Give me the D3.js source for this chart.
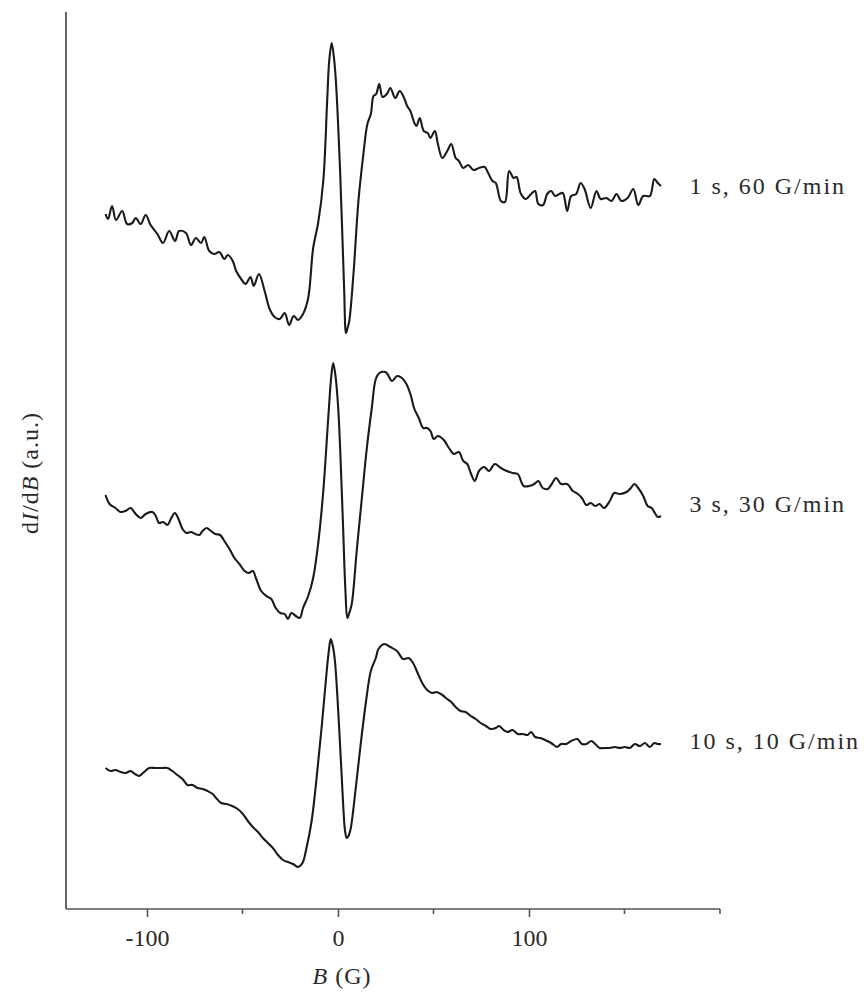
<!DOCTYPE html>
<html>
<head>
<meta charset="utf-8">
<script src="https://cdn.jsdelivr.net/npm/d3@7"></script>
<style>
  html, body { margin: 0; padding: 0; background: #fff; }
  svg { display: block; }
  text { font-family: "Liberation Serif", "Times New Roman", serif; fill: #2a2a2a; }
</style>
</head>
<body>
<svg id="chart" width="864" height="993"></svg>
<script>
// ---- Data (B in gauss, dI/dB in arbitrary units incl. vertical offset) ----
const seriesLabels = ["1 s, 60 G/min", "3 s, 30 G/min", "10 s, 10 G/min"];
const xTicks = [-100, 0, 100];
const xMinorTicks = [-50, 50, 150, 200];

const curve1B = [-121.7,-120.4,-118.3,-116.2,-113.0,-110.4,-107.7,-105.9,-103.3,-100.7,-98.1,-94.6,-91.6,-88.4,-85.3,-83.2,-79.6,-77.0,-74.4,-71.7,-70.0,-67.4,-64.7,-62.1,-59.5,-57.7,-55.1,-53.3,-50.7,-48.4,-45.8,-44.1,-41.4,-38.4,-35.8,-33.2,-30.5,-27.9,-25.6,-23.2,-20.9,-18.3,-15.6,-13.0,-10.4,-7.7,-5.6,-4.6,-3.3,-2.1,-1.1,1.1,3.2,4.2,5.0,5.9,8.1,10.7,13.3,15.4,17.2,18.6,20.0,21.6,23.3,25.6,27.4,30.0,32.3,34.4,36.2,37.9,40.0,41.1,42.8,44.9,47.0,48.4,50.7,52.3,54.6,57.2,59.3,61.6,63.3,65.6,68.1,70.9,73.8,76.8,78.6,80.9,82.6,85.3,87.4,89.6,91.9,93.5,95.8,98.4,101.1,103.2,104.9,107.4,109.5,111.6,113.7,115.9,117.7,120.0,122.1,124.7,127.0,129.1,132.3,135.3,137.5,140.5,143.2,145.8,148.4,151.6,154.6,157.2,159.8,163.3,165.6,167.4,169.1];
const curve1V = [69.5,69.0,70.3,68.9,69.8,68.5,68.6,69.1,68.5,69.4,68.4,67.5,66.6,67.8,66.8,67.8,67.6,66.4,67.1,66.6,67.2,65.8,65.5,65.7,65.0,65.4,64.8,63.8,63.0,62.5,63.2,62.3,63.5,61.8,60.0,59.2,59.0,59.6,58.4,59.3,58.9,59.5,61.1,66.1,68.6,72.8,81.1,84.8,86.6,85.1,82.8,73.8,62.1,57.6,58.1,58.8,63.5,70.8,75.5,78.5,79.5,81.3,81.5,82.5,81.2,81.5,82.1,81.1,81.8,81.2,80.3,79.8,78.6,78.3,79.1,77.8,77.6,77.1,77.8,76.5,75.1,75.8,76.5,75.1,74.8,74.1,74.4,73.9,74.1,74.2,73.6,72.8,72.6,70.8,70.7,73.8,73.1,73.2,71.5,71.0,71.5,71.8,70.5,70.4,71.5,71.8,71.3,71.5,71.6,69.8,71.3,71.5,72.6,72.0,70.1,71.8,71.0,71.1,70.8,71.5,70.8,71.1,72.0,70.4,71.3,71.3,73.0,72.6,72.3];

const curve2B = [-121.7,-119.6,-116.5,-113.8,-111.2,-108.6,-105.9,-103.3,-100.7,-97.2,-95.4,-93.7,-91.6,-89.3,-87.5,-85.4,-83.5,-81.4,-79.3,-77.0,-74.7,-72.6,-70.9,-68.8,-66.5,-64.2,-61.7,-59.5,-56.8,-54.2,-51.6,-48.9,-46.7,-44.6,-42.8,-40.2,-37.5,-34.9,-32.6,-30.2,-27.9,-26.2,-24.4,-22.1,-20.0,-18.3,-15.6,-13.0,-10.4,-7.7,-5.1,-3.5,-2.5,-1.3,0.2,2.5,3.9,4.9,5.9,7.2,9.8,12.5,15.1,17.7,19.8,21.7,24.7,25.9,28.3,30.9,33.5,35.8,37.9,40.0,42.3,44.6,46.7,48.4,50.2,52.3,55.4,58.1,60.7,63.3,65.6,67.7,69.5,71.6,73.8,76.5,79.1,82.1,85.3,88.4,91.4,94.1,97.2,100.2,102.8,104.9,107.2,109.8,111.9,114.2,116.8,120.0,123.0,125.6,127.7,130.0,132.3,134.7,137.0,139.3,142.3,144.6,147.5,151.1,153.3,155.1,157.2,159.8,162.1,164.2,165.9,167.4,169.1];
const curve2V = [41.4,40.5,40.1,39.7,39.8,40.1,39.5,39.1,39.5,39.7,39.3,38.6,38.7,38.4,39.0,39.6,39.0,38.0,37.6,37.7,37.5,37.4,37.8,38.1,37.8,37.5,37.4,36.8,36.0,35.1,34.5,33.8,33.6,33.8,33.0,31.8,31.3,31.0,30.1,29.6,29.5,29.0,29.6,29.3,29.1,30.1,31.3,33.1,36.5,41.8,49.1,53.3,54.6,53.3,49.8,39.1,31.8,29.1,29.6,30.5,35.8,41.1,46.1,50.1,53.0,53.6,53.7,53.5,52.8,53.3,53.1,52.5,51.5,50.0,49.1,48.1,48.1,47.8,47.0,47.3,46.9,46.1,45.5,45.7,44.8,44.5,43.6,42.8,43.8,44.2,43.8,44.5,44.1,43.8,43.6,43.5,42.3,42.3,42.5,42.8,42.1,42.0,42.5,43.1,42.5,42.5,41.8,41.5,41.1,40.4,40.6,40.3,40.5,40.1,40.8,41.6,41.5,41.7,42.1,42.5,42.1,41.3,40.3,40.1,39.6,39.2,39.3];

const curve3B = [-121.7,-119.1,-116.5,-113.8,-111.2,-108.6,-106.3,-104.2,-102.1,-98.9,-95.4,-91.9,-89.3,-86.7,-84.1,-81.4,-78.8,-76.2,-73.5,-70.9,-68.3,-65.6,-63.8,-61.2,-58.3,-55.4,-52.5,-49.8,-47.2,-44.6,-41.9,-39.3,-36.7,-34.1,-31.4,-28.8,-26.2,-23.5,-20.9,-18.6,-16.5,-13.8,-11.2,-8.6,-5.9,-4.8,-3.8,-2.7,-1.6,0.7,2.8,3.7,4.6,5.5,6.7,9.3,11.9,14.7,17.2,19.8,21.2,24.2,27.4,30.9,34.1,37.0,39.3,41.7,44.1,46.7,49.3,51.6,54.6,57.2,59.3,61.6,64.2,66.8,69.5,72.1,74.7,77.4,80.0,82.6,84.4,86.7,88.8,91.4,94.1,96.7,99.3,101.1,103.2,105.9,108.4,111.6,114.7,116.8,119.5,122.1,125.3,127.7,130.0,132.6,134.7,137.0,139.6,142.3,144.9,147.5,150.2,152.8,155.4,158.1,160.7,163.3,165.6,167.4,169.1];
const curve3V = [14.1,13.8,13.9,13.7,13.6,13.8,13.5,13.3,13.6,14.1,14.1,14.1,14.1,13.8,13.4,13.0,12.4,12.4,12.1,12.0,11.8,11.5,11.1,10.6,10.5,10.3,10.0,9.5,8.8,8.2,7.7,7.1,6.6,6.1,5.4,4.9,4.7,4.5,4.2,4.6,6.1,8.8,13.1,18.1,23.8,25.8,27.0,26.3,24.8,17.8,10.1,7.8,7.1,7.3,8.1,12.1,16.5,20.8,23.8,25.1,26.0,26.5,26.2,25.8,25.0,25.1,24.6,23.6,22.6,21.9,21.6,21.7,21.4,21.0,20.7,20.2,19.8,19.7,19.3,19.0,18.6,18.3,18.0,18.1,18.3,17.9,17.7,17.9,17.5,17.5,17.4,17.7,17.2,17.1,16.9,16.6,16.2,16.5,16.5,16.8,17.0,16.5,16.5,16.8,16.5,16.1,16.1,16.1,16.2,16.1,16.2,16.1,16.5,16.3,16.6,16.2,16.6,16.5,16.5];

const labelValues = [71.5, 39.7, 16.0];   // vertical position (baseline) of each series label (a.u.)
const labelB = [184, 184, 184];           // horizontal position of labels (G)

// ---- Layout ----
const svg = d3.select("#chart");
const x = d3.scaleLinear().domain([-142.4, 200]).range([66, 720]);
const y = d3.scaleLinear().domain([0, 89.7]).range([909, 12]);

const series = [
  d3.zip(curve1B, curve1V),
  d3.zip(curve2B, curve2V),
  d3.zip(curve3B, curve3V)
];

const line = d3.line()
  .x(d => x(d[0]))
  .y(d => y(d[1]))
  .curve(d3.curveCatmullRom.alpha(0.5));

svg.selectAll("path.trace")
  .data(series)
  .join("path")
  .attr("class", "trace")
  .attr("d", line)
  .attr("fill", "none")
  .attr("stroke", "#1a1a1a")
  .attr("stroke-width", 2.1)
  .attr("stroke-linejoin", "round");

// ---- Axes ----
const axisColor = "#555";
const xAxis = d3.axisBottom(x).tickValues(xTicks).tickSize(8).tickPadding(12)
  .tickFormat(d3.format("d"));
const gx = svg.append("g").attr("transform", `translate(0,${y(0)})`).call(xAxis);
gx.select(".domain").attr("stroke", axisColor).attr("stroke-width", 1.6)
  .attr("d", `M${x.range()[0]},0H${x.range()[1]}`);
gx.selectAll(".tick line").attr("stroke", axisColor).attr("stroke-width", 1.6);
gx.selectAll(".tick text")
  .style("font-family", '"Liberation Serif", serif')
  .style("font-size", "24px")
  .attr("fill", "#2a2a2a")
  .attr("dy", "0.71em")
  .text(d => d < 0 ? "-" + Math.abs(d) : String(d));

svg.append("g").selectAll("line")
  .data(xMinorTicks)
  .join("line")
  .attr("x1", d => x(d)).attr("x2", d => x(d))
  .attr("y1", y(0)).attr("y2", y(0) + 5)
  .attr("stroke", axisColor).attr("stroke-width", 1.6);

svg.append("line")
  .attr("x1", x.range()[0]).attr("x2", x.range()[0])
  .attr("y1", y.range()[1]).attr("y2", y(0))
  .attr("stroke", axisColor).attr("stroke-width", 1.8);

// x-axis title: B (G)
const xt = svg.append("text")
  .attr("x", 342).attr("y", 984)
  .attr("text-anchor", "middle")
  .style("font-size", "24px")
  .style("letter-spacing", "1px");
xt.append("tspan").attr("font-style", "italic").text("B");
xt.append("tspan").text(" (G)");

// y-axis title: dI/dB (a.u.)
const yt = svg.append("text")
  .attr("transform", "translate(38,473) rotate(-90)")
  .attr("text-anchor", "middle")
  .style("font-size", "24px")
  .style("letter-spacing", "1px");
yt.append("tspan").text("d");
yt.append("tspan").attr("font-style", "italic").text("I");
yt.append("tspan").text("/d");
yt.append("tspan").attr("font-style", "italic").text("B");
yt.append("tspan").text(" (a.u.)");

// ---- Series labels ----
svg.selectAll("text.lab")
  .data(seriesLabels)
  .join("text")
  .attr("class", "lab")
  .attr("x", (d, i) => x(labelB[i]))
  .attr("y", (d, i) => y(labelValues[i]))
  .style("font-size", "24px")
  .style("letter-spacing", "2px")
  .text(d => d);
</script>
</body>
</html>
